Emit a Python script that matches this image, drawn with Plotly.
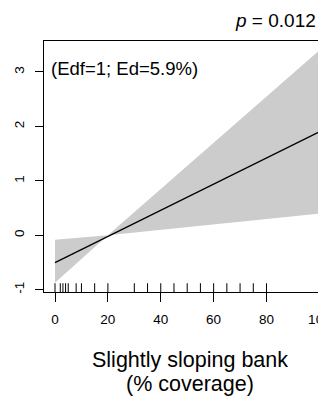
import plotly.graph_objects as go

# ---- data ----
fit_x = [0, 10, 20, 30, 40, 50, 60, 64, 66, 70, 80, 88, 90, 100]
fit_y = [-0.50, -0.26, -0.02, 0.22, 0.46, 0.70, 0.94, 1.05, 1.09, 1.18, 1.42, 1.62, 1.66, 1.90]

band_x = [0, 20, 100]
band_a = [-0.869, 0.0, 3.40]   # edge rising steeply
band_b = [-0.08, 0.0, 0.40]    # edge rising slowly

rug_x = [0, 2, 3, 4, 5, 8, 10, 15, 20, 30, 35, 40, 45, 50, 55, 60, 65, 70, 75, 80, 100]

x_ticks = [0, 20, 40, 60, 80, 100]
y_ticks = [-1, 0, 1, 2, 3]

x_range = [-4.16, 102.5]
y_range = [-1.04, 3.569]

p_text = "<i>p</i> = 0.012"
edf_text = "(Edf=1; Ed=5.9%)"
xlab1 = "Slightly sloping bank"
xlab2 = "(% coverage)"

FONT = "Liberation Sans, Arial, sans-serif"
OFF = 8                      # page body margin
W, H = 326 - OFF, 401 - OFF
ML, MT = 44 - OFF, 41 - OFF
MR = 0
MB = H - (292 - OFF)

fig = go.Figure()

# shaded band polygon
poly_x = band_x + band_x[::-1]
poly_y = band_a + band_b[::-1]
fig.add_trace(go.Scatter(x=poly_x, y=poly_y, fill="toself", fillcolor="#cccccc",
                         line=dict(width=0), mode="lines", hoverinfo="skip",
                         showlegend=False))

# fitted line
fig.add_trace(go.Scatter(x=fit_x, y=fit_y, mode="lines",
                         line=dict(color="black", width=1.4), showlegend=False))

# rug
rug_len = 0.035 * (y_range[1] - y_range[0])
rx, ry = [], []
for v in rug_x:
    rx += [v, v, None]
    ry += [y_range[0], y_range[0] + rug_len, None]
fig.add_trace(go.Scatter(x=rx, y=ry, mode="lines",
                         line=dict(color="black", width=1), showlegend=False,
                         hoverinfo="skip"))

fig.update_xaxes(range=x_range, tickvals=x_ticks, ticktext=[str(t) for t in x_ticks],
                 showgrid=False, zeroline=False, showline=True, mirror=True,
                 linecolor="black", linewidth=1.2, ticks="outside", ticklen=9,
                 tickcolor="black", tickwidth=1.2, ticklabeloverflow="allow",
                 automargin=False, ticklabelstandoff=6,
                 tickfont=dict(family=FONT, size=13.5, color="black"))
fig.update_yaxes(range=y_range, tickvals=y_ticks, ticktext=[str(t) for t in y_ticks],
                 showgrid=False, zeroline=False, showline=True, mirror=False,
                 linecolor="black", linewidth=1.2, ticks="outside", ticklen=8,
                 tickcolor="black", tickwidth=1.2, tickangle=-90,
                 automargin=False, ticklabelstandoff=6,
                 tickfont=dict(family=FONT, size=13.5, color="black"))

PW = W - ML - MR
PH = H - MT - MB
def pxr(x):  # reference page pixel -> paper x
    return (x - OFF - ML) / PW
def pyr(y):  # reference page pixel -> paper y
    return (H - MB - (y - OFF)) / PH

fig.add_annotation(text=p_text, xref="paper", yref="paper",
                   x=pxr(318), y=pyr(20.7), xanchor="right", yanchor="middle",
                   showarrow=False, font=dict(family=FONT, size=19, color="black"))
fig.add_annotation(text=edf_text, xref="paper", yref="paper",
                   x=pxr(49), y=pyr(68), xanchor="left", yanchor="middle",
                   showarrow=False, font=dict(family=FONT, size=18.5, color="black"))
fig.add_annotation(text=xlab1, xref="paper", yref="paper",
                   x=pxr(190), y=pyr(359.5), xanchor="center", yanchor="middle",
                   showarrow=False, font=dict(family=FONT, size=21.5, color="black"))
fig.add_annotation(text=xlab2, xref="paper", yref="paper",
                   x=pxr(190), y=pyr(384), xanchor="center", yanchor="middle",
                   showarrow=False, font=dict(family=FONT, size=21.5, color="black"))

fig.update_layout(width=W, height=H, margin=dict(l=ML, r=MR, t=MT, b=MB),
                  plot_bgcolor="white", paper_bgcolor="white", showlegend=False)

fig.write_html("out.html")
